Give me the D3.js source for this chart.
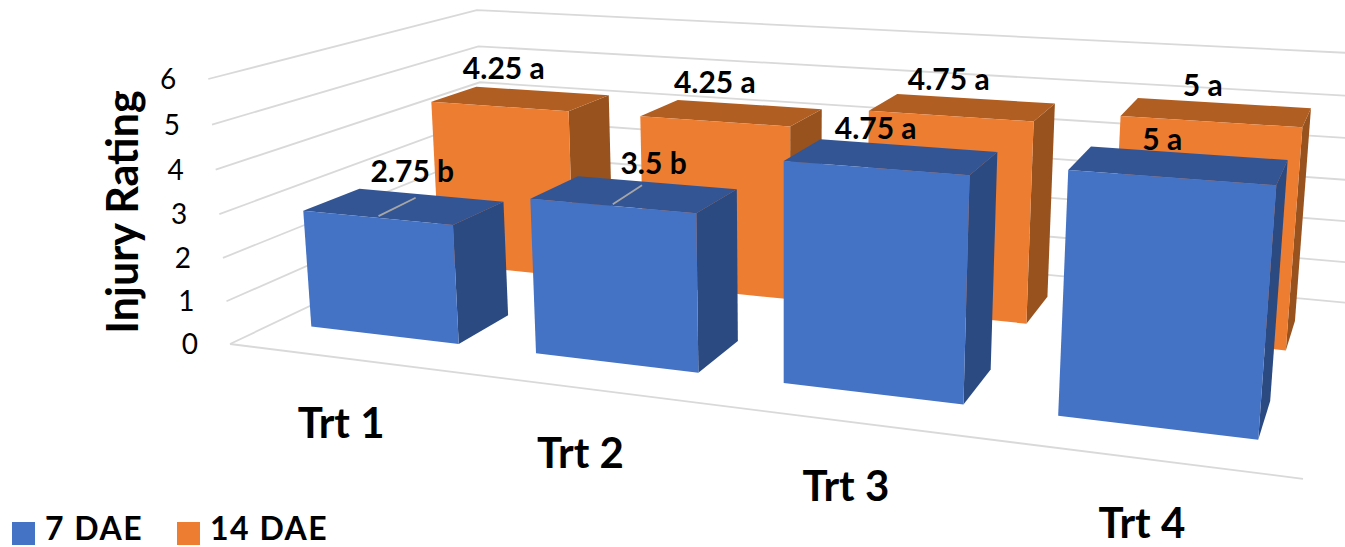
<!DOCTYPE html>
<html>
<head>
<meta charset="utf-8">
<script src="https://cdn.jsdelivr.net/npm/d3@7"></script>
<style>
  body { margin: 0; background: #fff; }
  svg { display: block; }
  text { font-family: Lato, "Open Sans", sans-serif; fill: #000; }
</style>
</head>
<body>
<script>
var categories = ['Trt 1', 'Trt 2', 'Trt 3', 'Trt 4']
var seriesNames = ['7 DAE', '14 DAE']
var dae7 = [2.75, 3.5, 4.75, 5]
var dae14 = [4.25, 4.25, 4.75, 5]
var letters7 = ['b', 'b', 'a', 'a']
var letters14 = ['a', 'a', 'a', 'a']
var yTicks = [0, 1, 2, 3, 4, 5, 6]

var width = 1345
var height = 547

var colors = {
	'7 DAE': {front: '#4472c4', top: '#335593', side: '#2b4a82'},
	'14 DAE': {front: '#ed7d31', top: '#b15e22', side: '#98521d'}
}

// chart box seen in perspective: where the three axes end, and where their directions meet
var origin = [230, 344]
var xEnd = [1303, 478], yEnd = [207, 79], zEnd = [486, 221]
var xVanish = [-4300, -225], yVanish = [784, 7100], zVanish = [1470, -245]

var ax = (xEnd[0] - origin[0]) / (xVanish[0] - xEnd[0])
var ay = (yEnd[1] - origin[1]) / (yVanish[1] - yEnd[1])
var az = (zEnd[0] - origin[0]) / (zVanish[0] - zEnd[0])

// all three scales run 0..1 and project() turns them into page coordinates
var x = d3.scaleBand().domain(categories).range([0, 1]).paddingInner(1 / 3).paddingOuter(1 / 6)
var y = d3.scaleLinear().domain([0, 6]).range([0, 1])
var z = d3.scaleBand().domain(seriesNames).range([0, 0.985]).paddingInner(0.6).paddingOuter(0.3)

function project(u, v, w) {
	var d = 1 + ax * u + ay * v + az * w
	return [
		(ax * u * xVanish[0] + ay * v * yVanish[0] + az * w * zVanish[0] + origin[0]) / d,
		(ax * u * xVanish[1] + ay * v * yVanish[1] + az * w * zVanish[1] + origin[1]) / d
	]
}

var line = d3.line()
var quad = (pts) => line(pts) + 'Z'

var svg = d3.select('body').append('svg').attr('width', width).attr('height', height)

// walls and floor
var grid = svg.append('g').attr('fill', 'none').attr('stroke', '#d9d9d9').attr('stroke-width', 1.8)

yTicks.forEach((t) => {
	grid.append('path').attr('d', line([project(0, y(t), 0), project(0, y(t), 1), project(1.03, y(t), 1)]))
})
grid.append('path').attr('d', line([project(0, 0, 0), project(1, 0, 0)]))

// one record per bar
var bars = []
seriesNames.forEach((s, si) => {
	var values = si === 0 ? dae7 : dae14
	var letters = si === 0 ? letters7 : letters14
	categories.forEach((c, i) => {
		bars.push({category: c, series: s, value: values[i], label: values[i] + ' ' + letters[i]})
	})
})

var drawOrder = bars.filter((d) => d.series === '14 DAE').concat(bars.filter((d) => d.series === '7 DAE'))

var barGroups = svg.selectAll('.bar').data(drawOrder).enter().append('g').attr('class', 'bar')

function corners(d) {
	var u0 = x(d.category), u1 = u0 + x.bandwidth()
	var w0 = z(d.series), w1 = w0 + z.bandwidth()
	var v = y(d.value)
	return {u0, u1, w0, w1, v}
}

barGroups.append('path')
	.attr('fill', (d) => colors[d.series].side)
	.attr('d', (d) => {
		var c = corners(d)
		return quad([project(c.u1, 0, c.w0), project(c.u1, 0, c.w1), project(c.u1, c.v, c.w1), project(c.u1, c.v, c.w0)])
	})

barGroups.append('path')
	.attr('fill', (d) => colors[d.series].top)
	.attr('d', (d) => {
		var c = corners(d)
		return quad([project(c.u0, c.v, c.w0), project(c.u1, c.v, c.w0), project(c.u1, c.v, c.w1), project(c.u0, c.v, c.w1)])
	})

barGroups.append('path')
	.attr('fill', (d) => colors[d.series].front)
	.attr('d', (d) => {
		var c = corners(d)
		return quad([project(c.u0, 0, c.w0), project(c.u1, 0, c.w0), project(c.u1, c.v, c.w0), project(c.u0, c.v, c.w0)])
	})

// leader lines on the two short bars
var leaders = bars.filter((d) => d.series === '7 DAE' && d.value < 4)
svg.selectAll('.leader').data(leaders).enter().append('path')
	.attr('class', 'leader')
	.attr('fill', 'none')
	.attr('stroke', '#a6a6a6')
	.attr('stroke-width', 1.8)
	.attr('d', (d) => {
		var c = corners(d)
		var mid = (c.u0 + c.u1) / 2
		return line([project(mid - 0.002, c.v, c.w0 + 0.012), project(mid - 0.008, c.v, c.w1 - 0.03)])
	})

// value labels sit over the middle of each bar top, nudged clear of it
var labelNudge = {
	'7 DAE': [[8, -32], [19, -28], [-16, -25], [-17, -23]],
	'14 DAE': [[-17, -27], [-17, -27], [-14, -25], [-14, -24]]
}

function labelPos(d) {
	var c = corners(d)
	var p = project((c.u0 + c.u1) / 2, c.v, (c.w0 + c.w1) / 2)
	var n = labelNudge[d.series][categories.indexOf(d.category)]
	return [p[0] + n[0], p[1] + n[1]]
}

svg.selectAll('.value').data(bars).enter().append('text')
	.attr('class', 'value')
	.attr('text-anchor', 'middle')
	.attr('dominant-baseline', 'middle')
	.attr('font-size', 30)
	.attr('font-weight', 700)
	.attr('x', (d) => labelPos(d)[0])
	.attr('y', (d) => labelPos(d)[1])
	.text((d) => d.label)

// value axis labels
svg.selectAll('.tick').data(yTicks).enter().append('text')
	.attr('class', 'tick')
	.attr('text-anchor', 'end')
	.attr('dominant-baseline', 'middle')
	.attr('font-size', 28)
	.attr('x', (d) => project(0, y(d), 0)[0] - 32)
	.attr('y', (d) => project(0, y(d), 0)[1] + 3)
	.text((d) => d)

svg.append('text')
	.attr('transform', 'translate(127,212) rotate(-90)')
	.attr('text-anchor', 'middle')
	.attr('dominant-baseline', 'middle')
	.attr('font-size', 43)
	.attr('font-weight', 700)
	.text('Injury Rating')

// category labels run below the front edge of the floor
svg.selectAll('.cat').data(categories).enter().append('text')
	.attr('class', 'cat')
	.attr('text-anchor', 'middle')
	.attr('dominant-baseline', 'middle')
	.attr('font-size', 42)
	.attr('font-weight', 700)
	.attr('x', (d) => project(x(d) + x.bandwidth() / 2, 0, 0)[0])
	.attr('y', (d) => project(x(d) + x.bandwidth() / 2, 0, 0)[1] + 69)
	.text((d) => d)

// legend
var legendX = [12, 177]
var legend = svg.selectAll('.legend').data(seriesNames).enter().append('g')
	.attr('class', 'legend')
	.attr('transform', (d, i) => 'translate(' + legendX[i] + ',522)')

legend.append('rect')
	.attr('width', 23)
	.attr('height', 23)
	.attr('fill', (d) => colors[d].front)

legend.append('text')
	.attr('x', 33)
	.attr('y', 18)
	.attr('font-size', 32)
	.attr('font-weight', 700)
	.attr('letter-spacing', 1.5)
	.text((d) => d)
</script>
</body>
</html>
